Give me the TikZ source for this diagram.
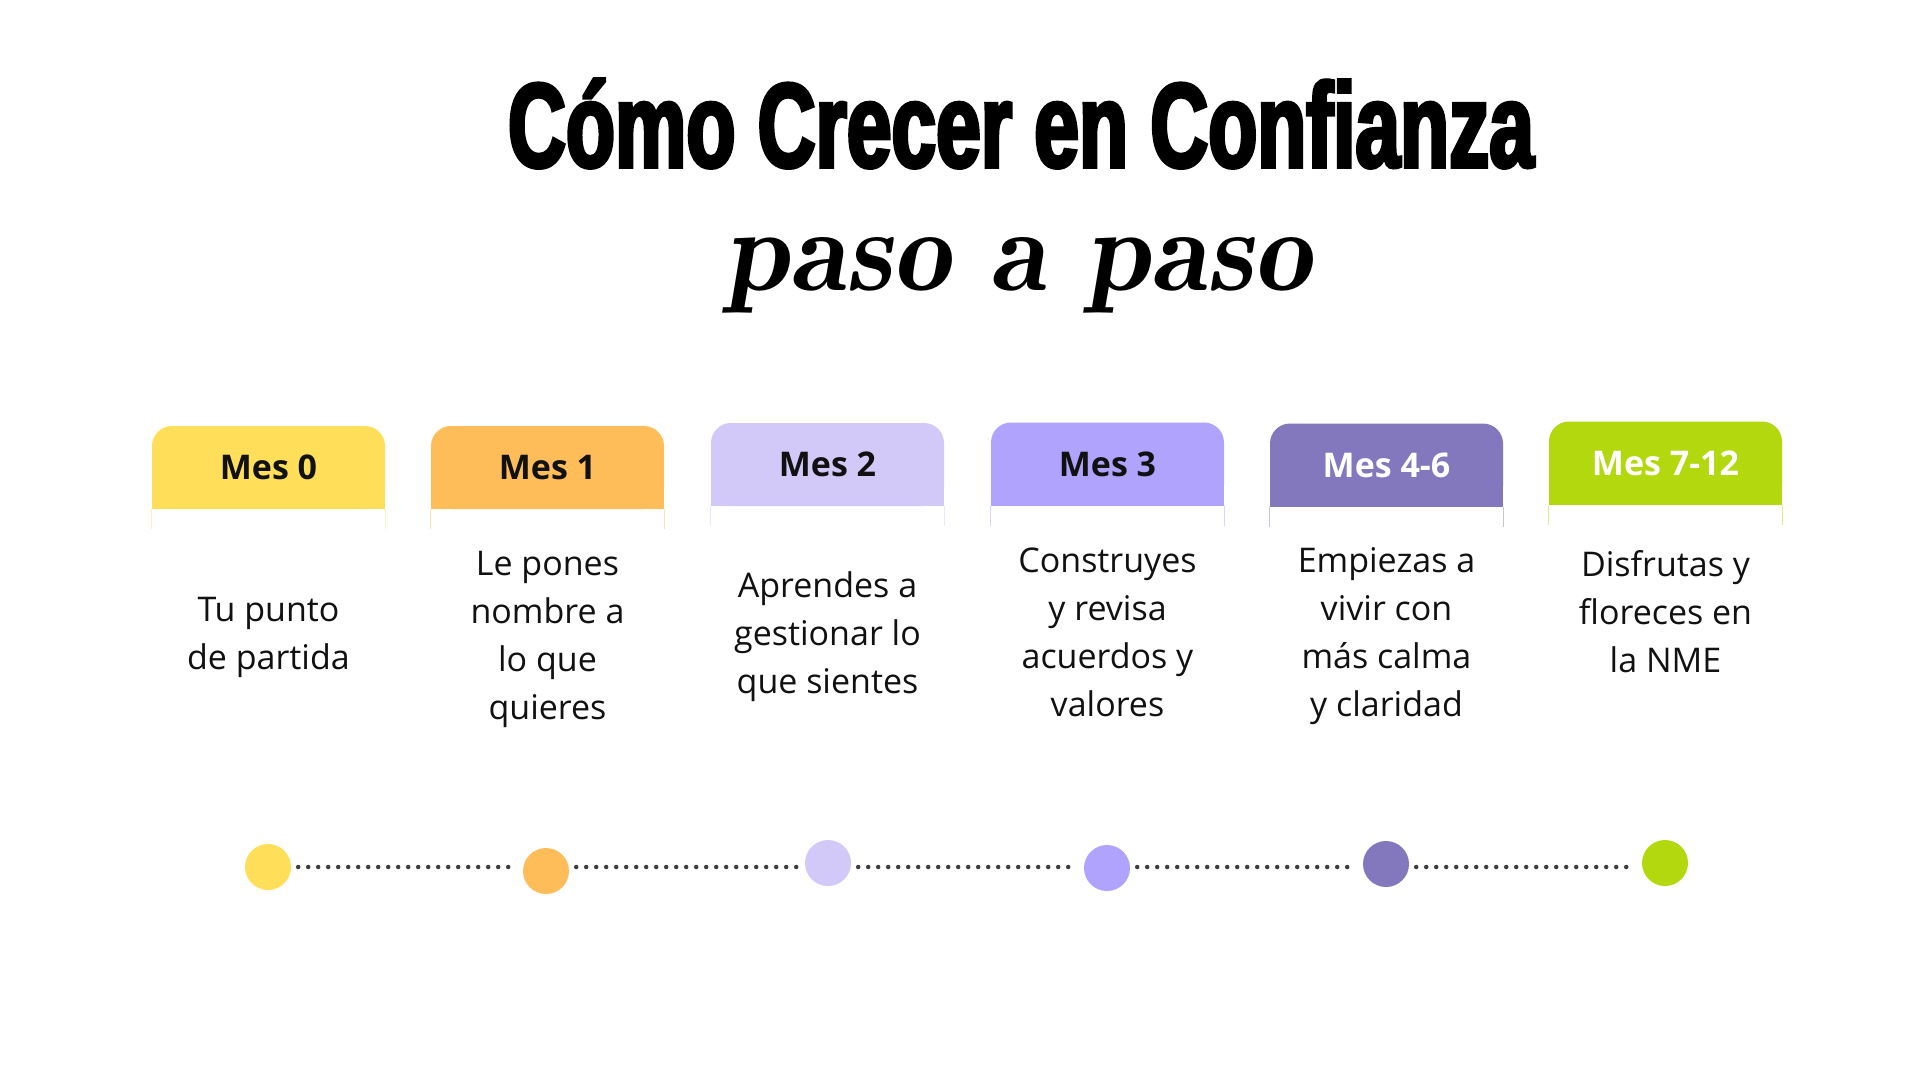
\documentclass[tikz,border=0pt]{standalone}
\usepackage{fontspec}
\setmainfont{Open Sans}
\newfontfamily\titlefont[FakeStretch=0.669,FakeBold=3]{Liberation Sans}
\usetikzlibrary{calc}
\definecolor{MesCero}{HTML}{FFDE59}
\definecolor{MesUno}{HTML}{FFBD59}
\definecolor{MesDos}{HTML}{D2C9F8}
\definecolor{MesTres}{HTML}{B0A3FD}
\definecolor{MesCuatro}{HTML}{8378BD}
\definecolor{MesSiete}{HTML}{B3D80E}
\definecolor{PuntoClr}{HTML}{3D3D3D}
\definecolor{TextoClr}{HTML}{111111}

\begin{document}
\begin{tikzpicture}[x=1pt,y=-1pt,
  mes/.style={rectangle,rounded corners=20pt,minimum width=233pt,minimum height=83pt,inner sep=0pt,
    font=\fontsize{34}{40}\selectfont\bfseries},
  pie/.style={line width=1pt,opacity=.45},
  paso/.style={align=center,text=TextoClr,font=\fontsize{34}{48}\selectfont},
  hito/.style={circle,minimum size=46pt,inner sep=0pt},
  puntos/.style={line width=4.5pt,line cap=round,dash pattern=on 0pt off 10pt,PuntoClr,
    shorten <=7pt,shorten >=7pt}]
\useasboundingbox (0,0) rectangle (1920,1080);
\fill[white] (0,0) rectangle (1920,1080);

\node[anchor=base,font=\titlefont\bfseries\fontsize{120}{130}\selectfont] (titulo) at (1021,167) {Cómo Crecer en Confianza};
\node[anchor=base,font=\fontfamily{lmr}\bfseries\itshape\fontsize{117}{125}\selectfont] (subtitulo) at (1018,290) {paso a paso};

\node[mes,fill=MesCero,text=TextoClr] (m0) at (268.5,467.5) {Mes 0};
\node[mes,fill=MesUno,text=TextoClr] (m1) at (547.5,467.5) {Mes 1};
\node[mes,fill=MesDos,text=TextoClr] (m2) at (827.5,464.5) {Mes 2};
\node[mes,fill=MesTres,text=TextoClr] (m3) at (1107.5,464) {Mes 3};
\node[mes,fill=MesCuatro,text=white] (m4) at (1386.5,465) {Mes 4-6};
\node[mes,fill=MesSiete,text=white] (m5) at (1665.5,463) {Mes 7-12};

\fill[MesCero] (m0.south west) rectangle ([yshift=22pt]m0.south east);
\fill[MesUno] (m1.south west) rectangle ([yshift=22pt]m1.south east);
\fill[MesDos] (m2.south west) rectangle ([yshift=22pt]m2.south east);
\fill[MesTres] (m3.south west) rectangle ([yshift=22pt]m3.south east);
\fill[MesCuatro] (m4.south west) rectangle ([yshift=22pt]m4.south east);
\fill[MesSiete] (m5.south west) rectangle ([yshift=22pt]m5.south east);

\draw[pie,MesCero] (m0.south west) -- ++(0,20) (m0.south east) -- ++(0,20);
\draw[pie,MesUno] (m1.south west) -- ++(0,20) (m1.south east) -- ++(0,20);
\draw[pie,MesDos] (m2.south west) -- ++(0,20) (m2.south east) -- ++(0,20);
\draw[pie,MesTres] (m3.south west) -- ++(0,20) (m3.south east) -- ++(0,20);
\draw[pie,MesCuatro] (m4.south west) -- ++(0,20) (m4.south east) -- ++(0,20);
\draw[pie,MesSiete] (m5.south west) -- ++(0,20) (m5.south east) -- ++(0,20);

\node[paso] (t0) at (268.5,637.5) {Tu punto\\de partida};
\node[paso] (t1) at (547.5,639) {Le pones\\nombre a\\lo que\\quieres};
\node[paso] (t2) at (827.5,637) {Aprendes a\\gestionar lo\\que sientes};
\node[paso] (t3) at (1107.5,632.5) {Construyes\\y revisa\\acuerdos y\\valores};
\node[paso] (t4) at (1386.5,636) {Empiezas a\\vivir con\\más calma\\y claridad};
\node[paso] (t5) at (1665.5,612) {Disfrutas y\\floreces en\\la NME};

\coordinate (eje) at (0,867);
\node[hito,fill=MesCero] (h0) at (268,867) {};
\node[hito,fill=MesUno] (h1) at (546,871) {};
\node[hito,fill=MesDos] (h2) at (828,863) {};
\node[hito,fill=MesTres] (h3) at (1107,868) {};
\node[hito,fill=MesCuatro] (h4) at (1386,864) {};
\node[hito,fill=MesSiete] (h5) at (1665,863) {};

\draw[puntos] (h0.east |- eje) -- (h1.west |- eje);
\draw[puntos] (h1.east |- eje) -- (h2.west |- eje);
\draw[puntos] (h2.east |- eje) -- (h3.west |- eje);
\draw[puntos] (h3.east |- eje) -- (h4.west |- eje);
\draw[puntos] (h4.east |- eje) -- (h5.west |- eje);
\end{tikzpicture}
\end{document}
